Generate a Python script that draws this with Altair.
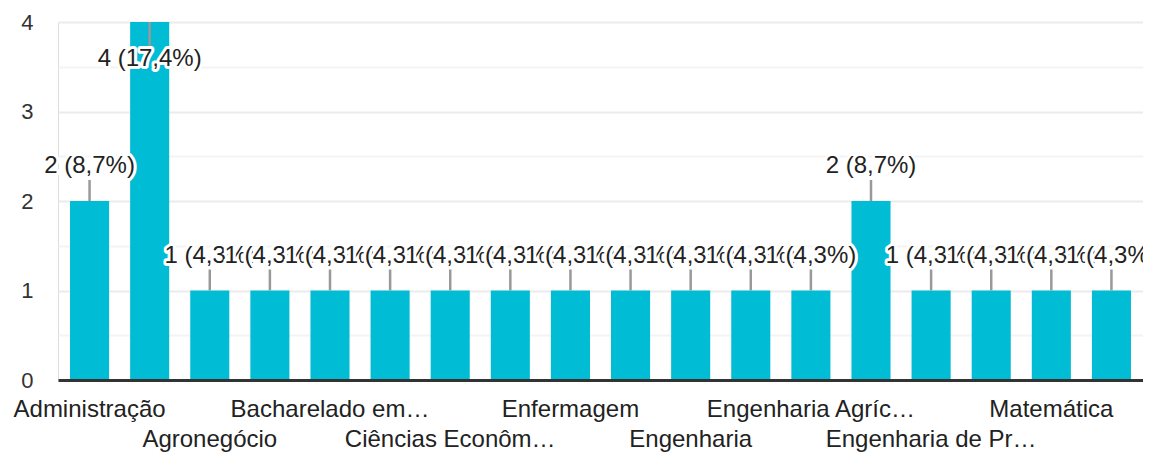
import json
import altair as alt
import pandas as pd

# Data
courses = [
    "Administração",
    "Agroecologia",
    "Agronegócio",
    "Agronomia",
    "Bacharelado em Ciência e Tecnologia",
    "Ciências Biológicas",
    "Ciências Econômicas",
    "Direito",
    "Enfermagem",
    "Enfermagem e Obstetrícia",
    "Engenharia",
    "Engenharia Aeronáutica",
    "Engenharia Agrícola e Ambiental",
    "Engenharia Civil",
    "Engenharia de Produção",
    "Engenharia Elétrica",
    "Matemática",
    "Medicina",
]
counts = [2, 4, 1, 1, 1, 1, 1, 1, 1, 1, 1, 1, 1, 2, 1, 1, 1, 1]
# axis labels as displayed (empty = not shown), row 1 / row 2 staggering
tick_labels = [
    "Administração", "", "Agronegócio", "", "Bacharelado em…", "",
    "Ciências Econôm…", "", "Enfermagem", "", "Engenharia", "",
    "Engenharia Agríc…", "", "Engenharia de Pr…", "", "Matemática", "",
]
tick_rows = [1, 0, 2, 0, 1, 0, 2, 0, 1, 0, 2, 0, 1, 0, 2, 0, 1, 0]
y_ticks = [0, 0.5, 1, 1.5, 2, 2.5, 3, 3.5, 4]

df = pd.DataFrame({"course": courses, "count": counts})

FONT = "Liberation Sans"
BAR = "#00bcd4"
TXT = "#222222"

# label expression for x axis
expr = "''"
for c, lab, row in reversed(list(zip(courses, tick_labels, tick_rows))):
    if not lab:
        continue
    val = json.dumps(lab, ensure_ascii=False) if row == 1 else json.dumps(["", lab], ensure_ascii=False)
    expr = f"datum.value === {json.dumps(c, ensure_ascii=False)} ? {val} : ({expr})"

x_enc = alt.X(
    "course:N",
    sort=courses,
    title=None,
    scale=alt.Scale(paddingInner=0.35, paddingOuter=0.2),
    axis=alt.Axis(
        labelExpr=expr,
        labelAngle=0,
        labelAlign="center",
        labelBaseline="alphabetic",
        labelPadding=36,
        labelLineHeight=30,
        labelFontSize=24,
        labelFont=FONT,
        labelColor=TXT,
        labelOverlap=False,
        labelLimit=0,
        ticks=False,
        tickSize=0,
        domainColor="#333333",
        domainWidth=3,
        grid=False,
        zindex=1,
    ),
)
y_enc = alt.Y(
    "count:Q",
    title=None,
    scale=alt.Scale(domain=[0, 4], nice=False),
    axis=alt.Axis(
        values=y_ticks,
        labelExpr="datum.value % 1 === 0 ? format(datum.value, 'd') : ''",
        labelFontSize=22,
        labelFont=FONT,
        labelColor="#333333",
        labelPadding=25,
        labelBaseline="middle",
        ticks=False,
        domain=False,
        grid=True,
        gridColor=alt.condition("datum.value % 1 !== 0", alt.value("#f4f4f4"), alt.value("#ebebeb")),
        gridWidth=2,
    ),
)

base = alt.Chart(df)

bars = base.mark_bar(color=BAR).encode(x=x_enc, y=y_enc)

agg = base.transform_joinaggregate(maxc="max(count)", total="sum(count)")

rule_up = agg.transform_filter("datum.count < datum.maxc").mark_rule(
    color="#999999", strokeWidth=2.5, y2Offset=-21
).encode(x=x_enc, y=y_enc, y2=alt.Y2("count:Q"))
rule_down = agg.transform_filter("datum.count >= datum.maxc").mark_rule(
    color="#999999", strokeWidth=2.5, y2Offset=25
).encode(x=x_enc, y=y_enc, y2=alt.Y2("count:Q"))

label_calc = (
    "datum.count + ' (' + replace(format(datum.count / datum.total * 100, '.1f'), '.', ',') + '%)'"
)

layers = [bars, rule_up, rule_down]
vmax = max(counts)
for c, v in zip(courses, counts):
    dy = 37 if v == vmax else -35
    src = agg.transform_calculate(lbl=label_calc).transform_filter(
        alt.datum.course == c
    )
    halo = src.mark_text(
        font=FONT, fontSize=24, baseline="middle", align="center", dy=dy,
        color="white", stroke="white", strokeWidth=6, strokeJoin="round",
    ).encode(x=x_enc, y=y_enc, text="lbl:N")
    txt = src.mark_text(
        font=FONT, fontSize=24, baseline="middle", align="center", dy=dy, color=TXT,
    ).encode(x=x_enc, y=y_enc, text="lbl:N")
    layers += [halo, txt]

chart = (
    alt.layer(*layers)
    .properties(
        width=1085,
        height=358,
        autosize=alt.AutoSizeParams(type="none"),
        padding={"left": 50, "top": 14, "right": 0, "bottom": 75},
    )
    .configure_view(stroke="#eeeeee", strokeWidth=2)
    .configure(background="white")
)

chart.save("out.html", embed_options={"renderer": "svg", "actions": False})
